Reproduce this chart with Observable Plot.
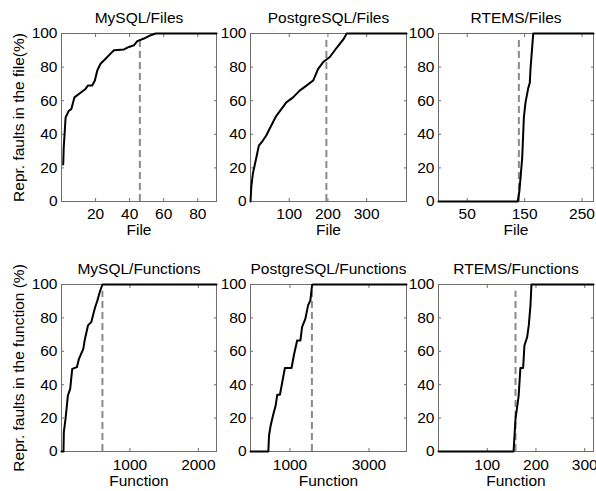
<!DOCTYPE html>
<html><head><meta charset="utf-8">
<script src="https://cdn.jsdelivr.net/npm/d3@7"></script>
<script src="https://cdn.jsdelivr.net/npm/@observablehq/plot@0.6"></script>
<style>
body{margin:0;background:#fff;}
#chart{position:relative;width:596px;height:491px;overflow:hidden;background:#fff;font-family:"Liberation Sans",Arial,sans-serif;}
#chart svg{position:absolute;}
</style></head><body><div id="chart"></div>
<script>
// ---- data ----
const titles = ["MySQL/Files","PostgreSQL/Files","RTEMS/Files","MySQL/Functions","PostgreSQL/Functions","RTEMS/Functions"];
const xLabels = ["File","File","File","Function","Function","Function"];
const yLabels = ["Repr. faults in the file(%)", "Repr. faults in the function (%)"];
const xMax = [91, 403, 270, 2265, 3950, 318];
const xTicks = [[20,40,60,80],[100,200,300],[50,150,250],[1000,2000],[1000,3000],[100,200,300]];
const yTicks = [0,20,40,60,80,100];
const thresholds = [46, 196, 140, 598, 1555, 158];
const dashTop = 96;

const mysqlFilesX = [1, 1.3, 1.8, 2.4, 4.3, 5.8, 7.6, 10.2, 14.1, 15.5, 18, 19.6, 21, 22.9, 25.9, 28.8, 30.8, 36.7, 39.6, 42.5, 44.5, 48.4, 52.4, 55.3, 91];
const mysqlFilesY = [22, 32, 40, 50, 54, 55, 62, 64, 67, 69, 69, 72, 78, 82, 85, 88, 90, 90.5, 92, 93, 95.5, 97, 99, 100, 100];
const pgFilesX = [0, 2, 6, 15, 21.6, 32, 40.7, 53.7, 66.7, 79.7, 92.6, 110, 127, 144.6, 161.8, 174.8, 187.8, 205, 222.6, 239.8, 248.5, 403];
const pgFilesY = [0, 8.5, 16.5, 26, 33.3, 36.3, 39.3, 45.2, 51, 55, 59, 62, 66, 69, 72, 79, 83, 86, 91.5, 96.5, 100, 100];
const rtemsFilesX = [0, 138, 141, 145.8, 148.7, 151.6, 156.3, 159, 160.3, 163, 165, 270];
const rtemsFilesY = [0, 0, 6.5, 26, 50, 59, 67.5, 70.6, 79, 91, 100, 100];
const mysqlFuncX = [0, 29, 34, 59, 93, 127, 157, 225, 255, 319, 338, 387, 436, 485, 525, 559, 598, 2265];
const mysqlFuncY = [0, 0, 11.6, 19.6, 33.5, 37.5, 49.5, 50.5, 55.5, 61.5, 66.5, 75.5, 77.5, 85.5, 90.5, 95.5, 100, 100];
const pgFuncX = [0, 452, 469, 511, 570, 637, 678, 745, 804, 871, 1039, 1097, 1181, 1264, 1306, 1390, 1457, 1516, 1558, 1574, 3950];
const pgFuncY = [0, 0, 9.6, 15.6, 21.6, 27.5, 34, 34, 41.5, 50, 50, 57.5, 66.5, 66.5, 74.5, 79.5, 87.5, 90.5, 99.5, 100, 100];
const rtemsFuncX = [0, 154, 158, 164.5, 168, 173.6, 176.3, 181.9, 185.2, 188.7, 190.7, 318];
const rtemsFuncY = [0, 0, 19.6, 33.5, 50, 50, 63.5, 68.5, 75.5, 87.5, 100, 100];

const seriesX = [mysqlFilesX, pgFilesX, rtemsFilesX, mysqlFuncX, pgFuncX, rtemsFuncX];
const seriesY = [mysqlFilesY, pgFilesY, rtemsFilesY, mysqlFuncY, pgFuncY, rtemsFuncY];

// ---- layout ----
const colLeft = [61, 250, 438], colRight = [216, 406, 593];
const rowTop = [33, 284], rowBottom = [201, 451];
const xLabelDy = [22, 23];
const xTickPad = [9, 10];
const mL = 45, mR = 8, mT = 35, mB = 45;
const gray = "#6e6e6e";
const chart = document.getElementById("chart");

for (let i = 0; i < 6; i++) {
  const r = Math.floor(i / 3), c = i % 3;
  const w = colRight[c] - colLeft[c] + mL + mR;
  const h = rowBottom[r] - rowTop[r] + mT + mB;
  const data = seriesX[i].map((x, k) => ({x, y: seriesY[i][k]}));
  const marks = [
    Plot.frame({stroke: gray}),
    Plot.axisX({anchor: "bottom", ticks: xTicks[i], tickSize: -3, tickPadding: xTickPad[r], tickFormat: d => String(d), stroke: gray, fill: "#000", label: null}),
    Plot.axisX({anchor: "top", ticks: xTicks[i], tickSize: -3, tickFormat: () => "", stroke: gray, label: null}),
    Plot.axisY({anchor: "left", ticks: yTicks, tickSize: -3, tickPadding: 7, tickFormat: d => String(d), stroke: gray, fill: "#000", label: null}),
    Plot.axisY({anchor: "right", ticks: yTicks, tickSize: -3, tickFormat: () => "", stroke: gray, label: null}),
    Plot.ruleX([thresholds[i]], {y1: 0, y2: dashTop, stroke: "#8a8a8a", strokeWidth: 2, strokeDasharray: "7,4"}),
    Plot.line(data, {x: "x", y: "y", stroke: "#000", strokeWidth: 2}),
    Plot.text([titles[i]], {frameAnchor: "top", dy: -15.5, lineAnchor: "middle", fill: "#000"}),
    Plot.text([xLabels[i]], {frameAnchor: "bottom", dy: xLabelDy[r], lineAnchor: "top", fill: "#000"})
  ];
  if (c === 0) {
    marks.push(Plot.text([yLabels[r]], {frameAnchor: "left", dx: -42, rotate: -90, textAnchor: "middle", lineAnchor: "middle", fill: "#000"}));
  }
  const svg = Plot.plot({
    width: w, height: h,
    marginLeft: mL, marginRight: mR, marginTop: mT, marginBottom: mB,
    x: {domain: [0, xMax[i]], label: null},
    y: {domain: [0, 100], label: null},
    style: {background: "transparent", overflow: "visible", fontSize: "15.5px", fontFamily: "'Liberation Sans', Arial, sans-serif", color: "#000"},
    marks
  });
  svg.style.left = (colLeft[c] - mL) + "px";
  svg.style.top = (rowTop[r] - mT) + "px";
  chart.appendChild(svg);
}
</script>
</body></html>
